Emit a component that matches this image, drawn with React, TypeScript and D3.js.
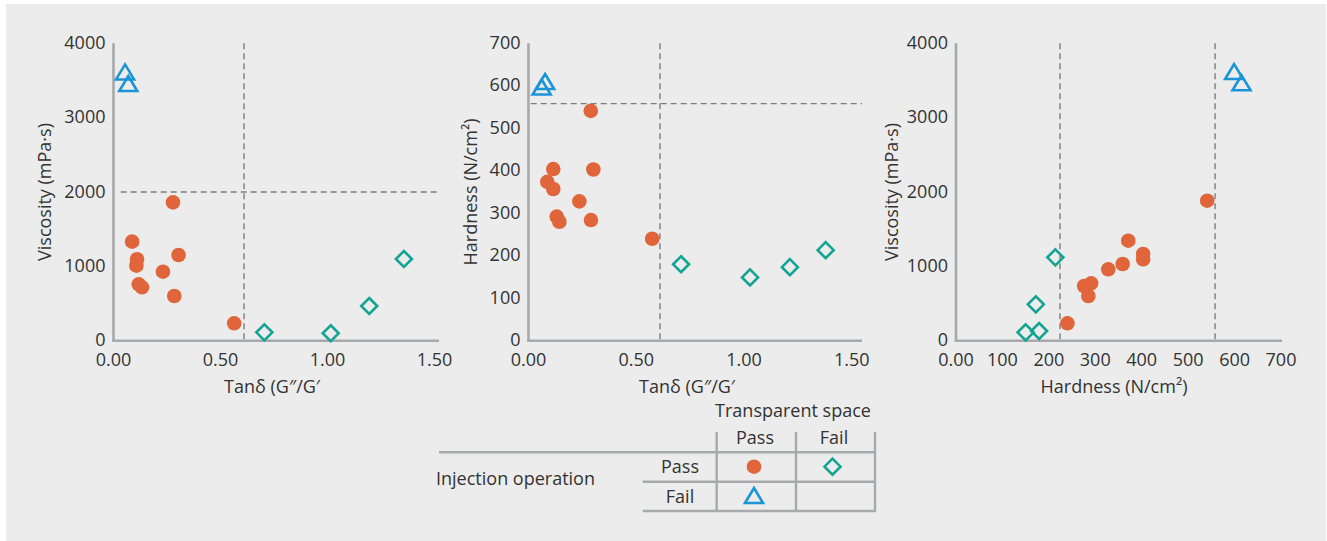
import React, { useEffect, useRef } from "react";
import * as d3 from "d3";

// thresholds
const tanThreshold = 0.61;
const viscosityThreshold = 2000;
const hardnessLow = 224;
const hardnessHigh = 558;

// tick values
const tanTicks = [0, 0.5, 1.0, 1.5];
const viscosityTicks = [0, 1000, 2000, 3000, 4000];
const hardnessTicks = [0, 100, 200, 300, 400, 500, 600, 700];
const hardnessXLabels = ["0.00", "100", "200", "300", "400", "500", "600", "700"];

// panel 1: tanδ vs viscosity
const tanViscPass = [[0.278, 1861], [0.087, 1332], [0.110, 1095], [0.107, 1009], [0.304, 1153], [0.231, 928], [0.118, 758], [0.133, 718], [0.284, 601], [0.564, 234]];
const tanViscSpaceFail = [[0.705, 113], [1.015, 100], [1.195, 467], [1.357, 1099]];
const tanViscInjFail = [[0.054, 3608], [0.069, 3453]];

// panel 2: tanδ vs hardness
const tanHardPass = [[0.289, 541], [0.115, 404], [0.301, 403], [0.087, 374], [0.115, 357], [0.236, 328], [0.131, 292], [0.143, 280], [0.290, 284], [0.574, 240]];
const tanHardSpaceFail = [[0.708, 180], [1.028, 149], [1.213, 173], [1.379, 213]];
const tanHardInjFail = [[0.077, 609], [0.061, 596]];

// panel 3: hardness vs viscosity
const hardViscPass = [[541, 1883], [371, 1345], [403, 1166], [403, 1095], [359, 1032], [328, 960], [291, 772], [276, 736], [285, 601], [240, 234]];
const hardViscSpaceFail = [[214, 1121], [172, 489], [150, 113], [179, 130]];
const hardViscInjFail = [[599, 3613], [615, 3462]];

const ORANGE = "#e0653a";
const TEAL = "#14a493";
const BLUE = "#1b95d8";
const AXIS = "#a7a9ac";
const DASH = "#7d7d7d";
const TEXT = "#333";
const FONT = "'Open Sans', sans-serif";

const diamondPath = "M0,-8L8,0L0,8L-8,0Z";
const trianglePath = "M0,-8L9,7L-9,7Z";

export default function App() {
  const svgRef = useRef(null);

  useEffect(() => {
    const svg = d3.select(svgRef.current);
    svg.selectAll("*").remove();

    svg.append("rect")
      .attr("x", 6).attr("y", 4)
      .attr("width", 1320).attr("height", 537)
      .attr("fill", "#ebeceb");

    const yRange = [340.7, 43.3];

    const panels = [
      {
        x: d3.scaleLinear().domain([0, 1.5]).range([113.5, 434.5]),
        y: d3.scaleLinear().domain([0, 4000]).range(yRange),
        xEnd: 439, xTicks: tanTicks, xLabels: tanTicks.map(d3.format(".2f")),
        yTicks: viscosityTicks, xTitle: "Tanδ (G″/G′", xTitleX: 272,
        yTitle: "Viscosity (mPa·s)", yTitleX: 51,
        pass: tanViscPass, spaceFail: tanViscSpaceFail, injFail: tanViscInjFail,
        vlines: [tanThreshold], hline: viscosityThreshold, hStart: 120.7,
      },
      {
        x: d3.scaleLinear().domain([0, 1.5]).range([528.5, 851.75]),
        y: d3.scaleLinear().domain([0, 700]).range(yRange),
        xEnd: 862, xTicks: tanTicks, xLabels: tanTicks.map(d3.format(".2f")),
        yTicks: hardnessTicks, xTitle: "Tanδ (G″/G′", xTitleX: 687,
        yTitle: "Hardness (N/cm²)", yTitleX: 477,
        pass: tanHardPass, spaceFail: tanHardSpaceFail, injFail: tanHardInjFail,
        vlines: [tanThreshold], hline: hardnessHigh, hStart: 530.7,
      },
      {
        x: d3.scaleLinear().domain([0, 700]).range([956, 1281]),
        y: d3.scaleLinear().domain([0, 4000]).range(yRange),
        xEnd: 1282, xTicks: hardnessTicks, xLabels: hardnessXLabels,
        yTicks: viscosityTicks, xTitle: "Hardness (N/cm²)", xTitleX: 1114,
        yTitle: "Viscosity (mPa·s)", yTitleX: 898,
        pass: hardViscPass, spaceFail: hardViscSpaceFail, injFail: hardViscInjFail,
        vlines: [hardnessLow, hardnessHigh], hline: null, hStart: 0,
      },
    ];

    panels.forEach(p => {
      const g = svg.append("g").style("font-family", FONT).style("font-size", "18px");
      const x0 = p.x.range()[0];

      // dashed thresholds
      p.vlines.forEach(v => {
        g.append("line")
          .attr("x1", p.x(v)).attr("x2", p.x(v))
          .attr("y1", yRange[1]).attr("y2", yRange[0])
          .attr("stroke", DASH).attr("stroke-width", 1.4)
          .attr("stroke-dasharray", "6,4");
      });
      if (p.hline !== null) {
        g.append("line")
          .attr("x1", p.hStart).attr("x2", p.xEnd)
          .attr("y1", p.y(p.hline)).attr("y2", p.y(p.hline))
          .attr("stroke", DASH).attr("stroke-width", 1.4)
          .attr("stroke-dasharray", "6,4");
      }

      // axis lines
      g.append("line")
        .attr("x1", x0).attr("x2", x0)
        .attr("y1", yRange[1]).attr("y2", yRange[0] + 1)
        .attr("stroke", AXIS).attr("stroke-width", 2.6);
      g.append("line")
        .attr("x1", x0 - 1.3).attr("x2", p.xEnd)
        .attr("y1", yRange[0]).attr("y2", yRange[0])
        .attr("stroke", AXIS).attr("stroke-width", 2.6);

      // tick labels
      g.selectAll("text.ytick")
        .data(p.yTicks)
        .enter()
        .append("text")
        .attr("class", "ytick")
        .attr("x", x0 - 8)
        .attr("y", d => p.y(d) + 5.5)
        .attr("text-anchor", "end")
        .attr("fill", TEXT)
        .text(d => String(d));

      g.selectAll("text.xtick")
        .data(p.xTicks)
        .enter()
        .append("text")
        .attr("class", "xtick")
        .attr("x", d => p.x(d))
        .attr("y", 366)
        .attr("text-anchor", "middle")
        .attr("fill", TEXT)
        .text((d, i) => p.xLabels[i]);

      // titles
      g.append("text")
        .attr("x", p.xTitleX).attr("y", 393)
        .attr("text-anchor", "middle")
        .attr("fill", TEXT)
        .text(p.xTitle);

      g.append("text")
        .attr("transform", `translate(${p.yTitleX},192) rotate(-90)`)
        .attr("text-anchor", "middle")
        .attr("fill", TEXT)
        .text(p.yTitle);

      // points
      g.selectAll("circle.pass")
        .data(p.pass)
        .enter()
        .append("circle")
        .attr("class", "pass")
        .attr("cx", d => p.x(d[0]))
        .attr("cy", d => p.y(d[1]))
        .attr("r", 7.3)
        .attr("fill", ORANGE);

      g.selectAll("path.sfail")
        .data(p.spaceFail)
        .enter()
        .append("path")
        .attr("class", "sfail")
        .attr("d", diamondPath)
        .attr("transform", d => `translate(${p.x(d[0])},${p.y(d[1])})`)
        .attr("fill", "none")
        .attr("stroke", TEAL)
        .attr("stroke-width", 2.6);

      g.selectAll("path.ifail")
        .data(p.injFail)
        .enter()
        .append("path")
        .attr("class", "ifail")
        .attr("d", trianglePath)
        .attr("transform", d => `translate(${p.x(d[0])},${p.y(d[1])})`)
        .attr("fill", "none")
        .attr("stroke", BLUE)
        .attr("stroke-width", 2.6);
    });

    // legend table
    const lg = svg.append("g").style("font-family", FONT).style("font-size", "18px");
    const lineAttrs = sel => sel.attr("stroke", AXIS).attr("stroke-width", 2.4);

    lg.append("text").attr("x", 793).attr("y", 417).attr("text-anchor", "middle").attr("fill", TEXT).text("Transparent space");
    lg.append("text").attr("x", 755).attr("y", 444).attr("text-anchor", "middle").attr("fill", TEXT).text("Pass");
    lg.append("text").attr("x", 834).attr("y", 444).attr("text-anchor", "middle").attr("fill", TEXT).text("Fail");
    lg.append("text").attr("x", 680).attr("y", 473).attr("text-anchor", "middle").attr("fill", TEXT).text("Pass");
    lg.append("text").attr("x", 680).attr("y", 503).attr("text-anchor", "middle").attr("fill", TEXT).text("Fail");
    lg.append("text").attr("x", 436).attr("y", 485).attr("fill", TEXT).text("Injection operation");

    [716.7, 796, 875].forEach(xv => {
      lg.append("line").attr("x1", xv).attr("x2", xv).attr("y1", 432).attr("y2", 512).call(lineAttrs);
    });
    lg.append("line").attr("x1", 439).attr("x2", 876).attr("y1", 452.3).attr("y2", 452.3).call(lineAttrs);
    lg.append("line").attr("x1", 642.7).attr("x2", 876).attr("y1", 481.7).attr("y2", 481.7).call(lineAttrs);
    lg.append("line").attr("x1", 642.7).attr("x2", 876).attr("y1", 511).attr("y2", 511).call(lineAttrs);

    lg.append("circle").attr("cx", 754).attr("cy", 466.7).attr("r", 7.3).attr("fill", ORANGE);
    lg.append("path").attr("d", diamondPath).attr("transform", "translate(832.5,466.7)")
      .attr("fill", "none").attr("stroke", TEAL).attr("stroke-width", 2.6);
    lg.append("path").attr("d", trianglePath).attr("transform", "translate(754,496)")
      .attr("fill", "none").attr("stroke", BLUE).attr("stroke-width", 2.6);
  }, []);

  return (
    <svg
      ref={svgRef}
      width={1327}
      height={541}
      style={{ position: "absolute", left: 0, top: 0, display: "block" }}
    />
  );
}
